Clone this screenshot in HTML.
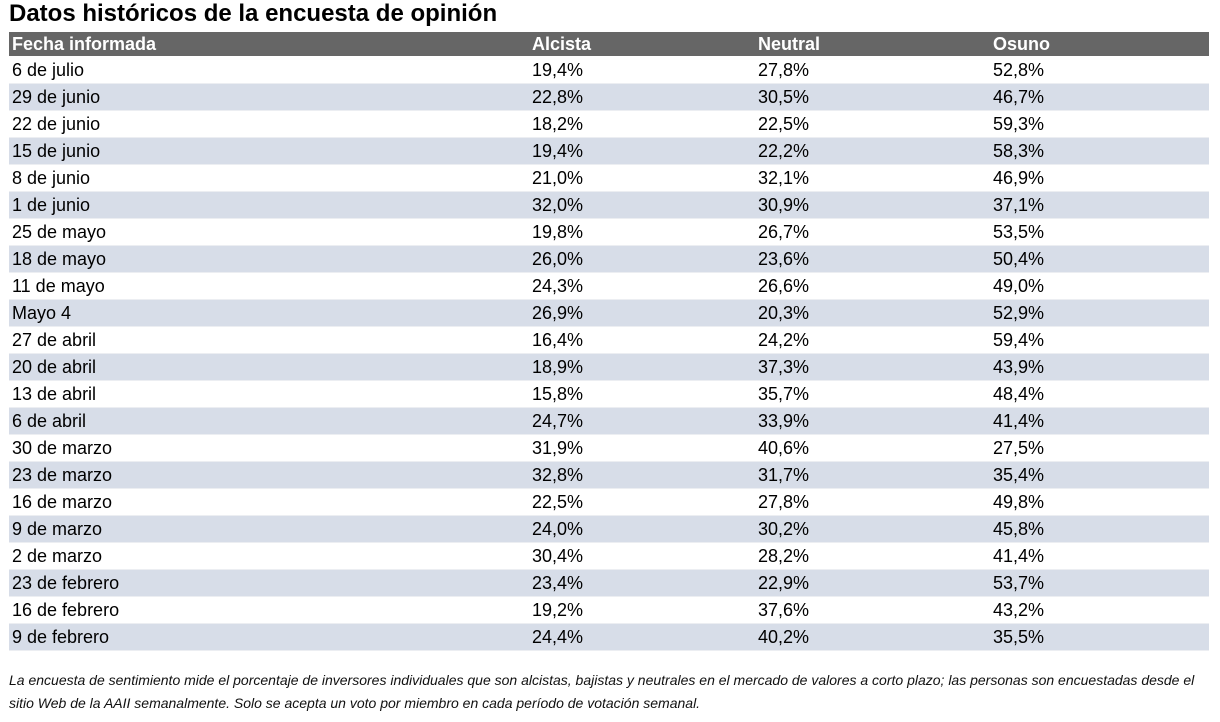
<!DOCTYPE html>
<html>
<head>
<meta charset="utf-8">
<style>
  html,body{margin:0;padding:0;background:#fff;}
  body{width:1220px;height:722px;position:relative;overflow:hidden;font-family:"Liberation Sans",Arial,sans-serif;color:#000;}
  .title{position:absolute;left:9px;top:0px;font-size:24px;font-weight:bold;line-height:28px;white-space:nowrap;}
  table{position:absolute;left:9px;top:32px;width:1200px;border-collapse:collapse;table-layout:fixed;}
  th{background:#666666;color:#fff;font-weight:bold;font-size:18px;text-align:left;height:24px;padding:0 0 0 3px;line-height:24px;border-bottom:1px solid #fff;}
  td{font-size:18px;height:26px;line-height:26px;padding:0 0 0 3px;border-bottom:1px solid #eceef2;white-space:nowrap;overflow:hidden;}
  tr.s td{background:#d7dde8;}
  .foot{position:absolute;left:9px;top:669px;width:1210px;font-size:14px;font-style:italic;line-height:23px;color:#111;white-space:nowrap;}
</style>
</head>
<body>
<div class="title">Datos históricos de la encuesta de opinión</div>
<table>
<colgroup><col style="width:520px"><col style="width:226px"><col style="width:235px"><col style="width:219px"></colgroup>
<tr><th>Fecha informada</th><th>Alcista</th><th>Neutral</th><th>Osuno</th></tr>
<tr><td>6 de julio</td><td>19,4%</td><td>27,8%</td><td>52,8%</td></tr>
<tr class="s"><td>29 de junio</td><td>22,8%</td><td>30,5%</td><td>46,7%</td></tr>
<tr><td>22 de junio</td><td>18,2%</td><td>22,5%</td><td>59,3%</td></tr>
<tr class="s"><td>15 de junio</td><td>19,4%</td><td>22,2%</td><td>58,3%</td></tr>
<tr><td>8 de junio</td><td>21,0%</td><td>32,1%</td><td>46,9%</td></tr>
<tr class="s"><td>1 de junio</td><td>32,0%</td><td>30,9%</td><td>37,1%</td></tr>
<tr><td>25 de mayo</td><td>19,8%</td><td>26,7%</td><td>53,5%</td></tr>
<tr class="s"><td>18 de mayo</td><td>26,0%</td><td>23,6%</td><td>50,4%</td></tr>
<tr><td>11 de mayo</td><td>24,3%</td><td>26,6%</td><td>49,0%</td></tr>
<tr class="s"><td>Mayo 4</td><td>26,9%</td><td>20,3%</td><td>52,9%</td></tr>
<tr><td>27 de abril</td><td>16,4%</td><td>24,2%</td><td>59,4%</td></tr>
<tr class="s"><td>20 de abril</td><td>18,9%</td><td>37,3%</td><td>43,9%</td></tr>
<tr><td>13 de abril</td><td>15,8%</td><td>35,7%</td><td>48,4%</td></tr>
<tr class="s"><td>6 de abril</td><td>24,7%</td><td>33,9%</td><td>41,4%</td></tr>
<tr><td>30 de marzo</td><td>31,9%</td><td>40,6%</td><td>27,5%</td></tr>
<tr class="s"><td>23 de marzo</td><td>32,8%</td><td>31,7%</td><td>35,4%</td></tr>
<tr><td>16 de marzo</td><td>22,5%</td><td>27,8%</td><td>49,8%</td></tr>
<tr class="s"><td>9 de marzo</td><td>24,0%</td><td>30,2%</td><td>45,8%</td></tr>
<tr><td>2 de marzo</td><td>30,4%</td><td>28,2%</td><td>41,4%</td></tr>
<tr class="s"><td>23 de febrero</td><td>23,4%</td><td>22,9%</td><td>53,7%</td></tr>
<tr><td>16 de febrero</td><td>19,2%</td><td>37,6%</td><td>43,2%</td></tr>
<tr class="s"><td>9 de febrero</td><td>24,4%</td><td>40,2%</td><td>35,5%</td></tr>
</table>
<div class="foot">La encuesta de sentimiento mide el porcentaje de inversores individuales que son alcistas, bajistas y neutrales en el mercado de valores a corto plazo; las personas son encuestadas desde el<br>sitio Web de la AAII semanalmente. Solo se acepta un voto por miembro en cada período de votación semanal.</div>
</body>
</html>
